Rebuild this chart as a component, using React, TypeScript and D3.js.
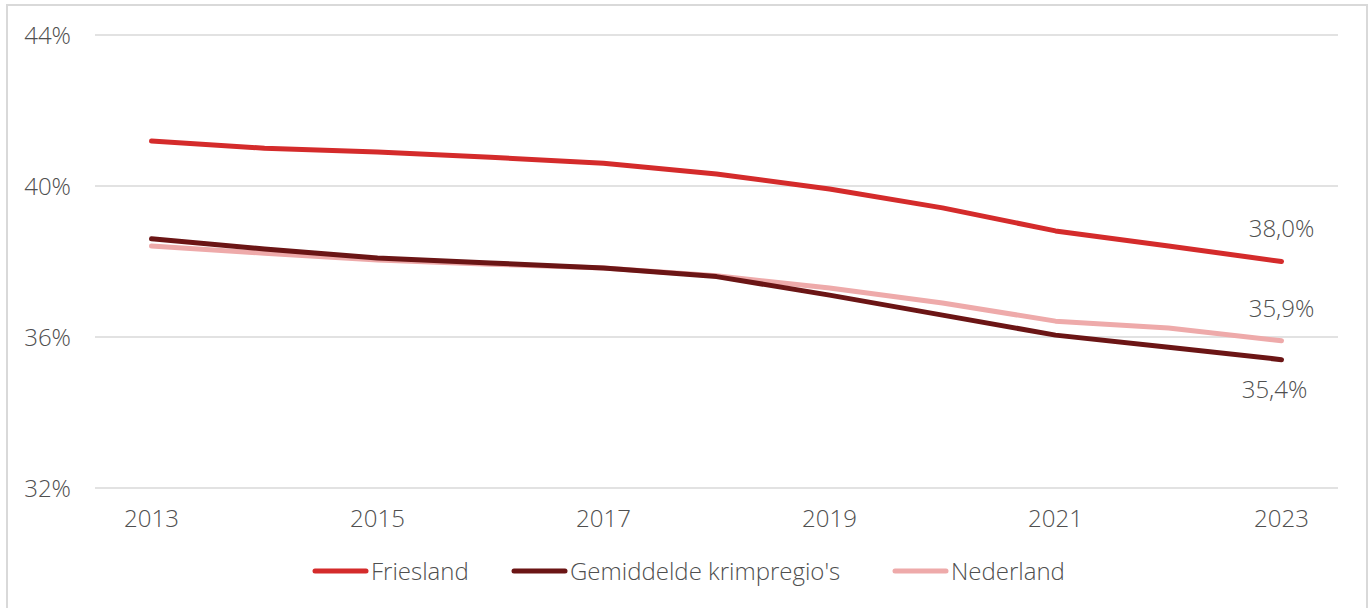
import React, { useEffect, useRef } from "react";
import * as d3 from "d3";

const years = [2013, 2014, 2015, 2016, 2017, 2018, 2019, 2020, 2021, 2022, 2023];
const xTickYears = [2013, 2015, 2017, 2019, 2021, 2023];
const yTicks = [32, 36, 40, 44];
const friesland = [41.19, 41.0, 40.9, 40.76, 40.6, 40.32, 39.92, 39.42, 38.81, 38.41, 38.0];
const krimpregios = [38.6, 38.33, 38.09, 37.96, 37.83, 37.6, 37.11, 36.58, 36.05, 35.73, 35.4];
const nederland = [38.41, 38.22, 38.04, 37.93, 37.83, 37.62, 37.3, 36.9, 36.42, 36.24, 35.9];
const seriesNames = ["Friesland", "Gemiddelde krimpregio's", "Nederland"];
const endLabels = ["38,0%", "35,4%", "35,9%"];

const W = 1370;
const H = 608;
const FONT = "'Open Sans', Lato, sans-serif";
const TEXT = "#4f4f4f";
const colors = ["#d42b2b", "#6b1515", "#eeaaaa"];

export default function App() {
  const ref = useRef<SVGSVGElement>(null);
  useEffect(() => {
    const svg = d3.select(ref.current);
    svg.selectAll("*").remove();

    const x = d3.scalePoint<number>().domain(years).range([95, 1338]).padding(0.5);
    const y = d3.scaleLinear().domain([32, 44]).range([488, 35]);

    svg.append("rect").attr("x", 7).attr("y", 5).attr("width", 1360).attr("height", 620)
      .attr("fill", "#fff").attr("stroke", "#d9d9d9").attr("stroke-width", 2);

    const g = svg.append("g");
    g.selectAll("line.grid").data(yTicks).join("line")
      .attr("x1", 95).attr("x2", 1338)
      .attr("y1", (d) => y(d)).attr("y2", (d) => y(d))
      .attr("stroke", "#d9d9d9").attr("stroke-width", 1.5);

    const txt = (sel: any) => sel.attr("font-family", FONT).attr("font-size", 24)
      .attr("font-weight", 300).attr("fill", TEXT);

    g.selectAll("text.ytick").data(yTicks).join("text")
      .attr("x", 71).attr("y", (d) => y(d) + 8.5)
      .attr("text-anchor", "end").call(txt).text((d) => `${d}%`);

    g.selectAll("text.xtick").data(xTickYears).join("text")
      .attr("x", (d) => x(d)!).attr("y", 527)
      .attr("text-anchor", "middle").call(txt).text((d) => String(d));

    const all = [friesland, krimpregios, nederland];
    const line = d3.line<number>().x((_, i) => x(years[i])!).y((d) => y(d));
    const order = [0, 2, 1];
    order.forEach((si) => {
      g.append("path").datum(all[si]).attr("d", line)
        .attr("fill", "none").attr("stroke", colors[si]).attr("stroke-width", 5)
        .attr("stroke-linecap", "round").attr("stroke-linejoin", "round");
    });

    const offsets = [-24.5, 38, -24];
    const dxs = [0, -7, 0];
    all.forEach((s, si) => {
      const last = s.length - 1;
      g.append("text").attr("x", x(years[last])! + dxs[si]).attr("y", y(s[last]) + offsets[si])
        .attr("text-anchor", "middle").call(txt).text(endLabels[si]);
    });

    const legendX = [313, 512, 893];
    seriesNames.forEach((n, i) => {
      g.append("line").attr("x1", legendX[i] + 2).attr("x2", legendX[i] + 53)
        .attr("y1", 571).attr("y2", 571).attr("stroke", colors[i]).attr("stroke-width", 5)
        .attr("stroke-linecap", "round");
      g.append("text").attr("x", legendX[i] + 58).attr("y", 580).call(txt).text(n);
    });
  }, []);
  return (
    <svg ref={ref} width={W} height={H} style={{ position: "absolute", left: 0, top: 0, display: "block" }} />
  );
}
